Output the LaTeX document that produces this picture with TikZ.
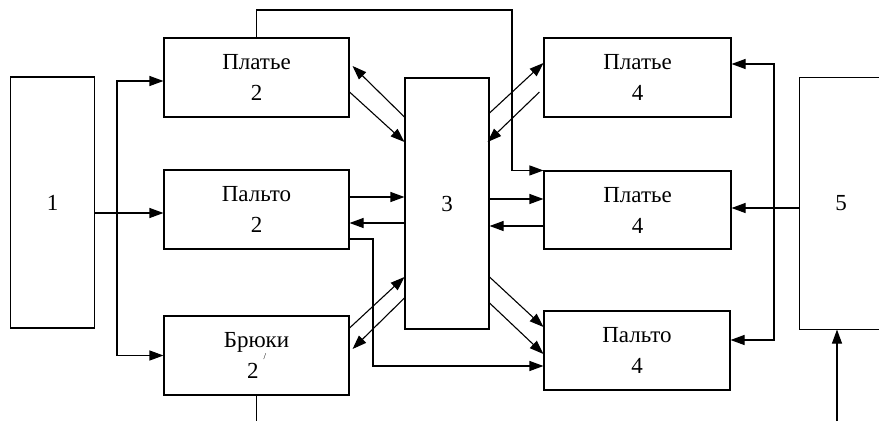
\documentclass[tikz,border=0pt]{standalone}
\usepackage{fontspec}
\setmainfont{Liberation Serif}
\usetikzlibrary{arrows.meta,calc}
\begin{document}
\begin{tikzpicture}[x=1pt,y=-1pt,
  line width=1.1pt,
  lbl/.style={font=\fontsize{23}{31}\selectfont},
  blk/.style={lbl, draw, minimum width=185pt, minimum height=79pt,
    inner sep=0pt, align=center},
  tall/.style={lbl, draw, minimum width=84pt, minimum height=251pt, inner sep=0pt},
  arr/.style={-{Triangle[length=14pt,width=10pt]}}
]
\useasboundingbox (0,0) rectangle (879,421);

% blocks
\node[tall] (b1) at (52.5,202.5) {1};
\node[blk] (pl2) at (256.5,77.5) {Платье\\2};
\node[blk] (pa2) at (256.5,209.5) {Пальто\\2};
\node[blk] (br2) at (256.5,355.5)
  {Брюки\\2\hspace{5pt}\raisebox{19pt}{\fontsize{9}{9}\selectfont /}};
\node[tall] (b3) at (447,203.5) {3};
\node[blk, minimum width=187pt] (pl4a) at (637.5,77.5) {Платье\\4};
\node[blk, minimum width=187pt, minimum height=78pt] (pl4b) at (637.5,210) {Платье\\4};
\node[blk, minimum width=186pt] (pa4) at (637,350.5) {Пальто\\4};
% block 5 runs off the right edge
\node[tall, draw=none, minimum width=79pt] (b5) at (839.5,203.5) {\hspace{3pt}5};
\draw (b5.north east) -- (b5.north west) -- (b5.south west) -- (b5.south east);

% free ends
\coordinate (j1) at (117,213);
\coordinate (t1) at (512,10);
\coordinate (rb) at (774,208);
\coordinate (in5) at (837,421);
\coordinate (out2) at (257,421);

% from block 1
\draw[arr] (b1.east |- j1) -- (pa2.west |- j1);
\draw[arr] (j1) |- (pl2.west |- 0,81);
\draw[arr] (j1) |- (br2.west);

% links between the left blocks and block 3
\draw[arr] (b3.west |- 0,117) -- ($(pl2.east |- 0,66)+(3,0)$);
\draw[arr] (pl2.east |- 0,92) -- (b3.west |- 0,142);
\draw[arr] (pa2.east |- 0,197) -- (b3.west |- 0,197);
\draw[arr] (b3.west |- 0,223) -- (pa2.east |- 0,223);
\draw[arr] (br2.east |- 0,328) -- (b3.west |- 0,277);
\draw[arr] (b3.west |- 0,298) -- ($(br2.east |- 0,349)+(3,0)$);

% links between block 3 and the right blocks
\draw[arr] (b3.east |- 0,113) -- (pl4a.west |- 0,63);
\draw[arr] ($(pl4a.west |- 0,92)+(-4,0)$) -- ($(b3.east |- 0,142)+(-2,0)$);
\draw[arr] (b3.east |- 0,199) -- (pl4b.west |- 0,199);
\draw[arr] (pl4b.west |- 0,226) -- (b3.east |- 0,226);
\draw[arr] (b3.east |- 0,277) -- (pa4.west |- 0,327);
\draw[arr] (b3.east |- 0,303) -- (pa4.west |- 0,354);

% bypass lines
\draw[arr] (pl2.north) |- (t1) |- (pl4b.north west);
\draw[arr] (pa2.east |- 0,239) -- (373,239) |- (pa4.west |- 0,366);

% from block 5
\draw[arr] (b5.west |- rb) -- (pl4b.east |- rb);
\draw[arr] (rb) |- (pl4a.east |- 0,64);
\draw[arr] (rb) |- (pa4.east |- 0,340);
\draw[arr] (in5) -- (b5.south -| in5);
\draw (br2.south) -- (br2.south |- out2);
\end{tikzpicture}
\end{document}
